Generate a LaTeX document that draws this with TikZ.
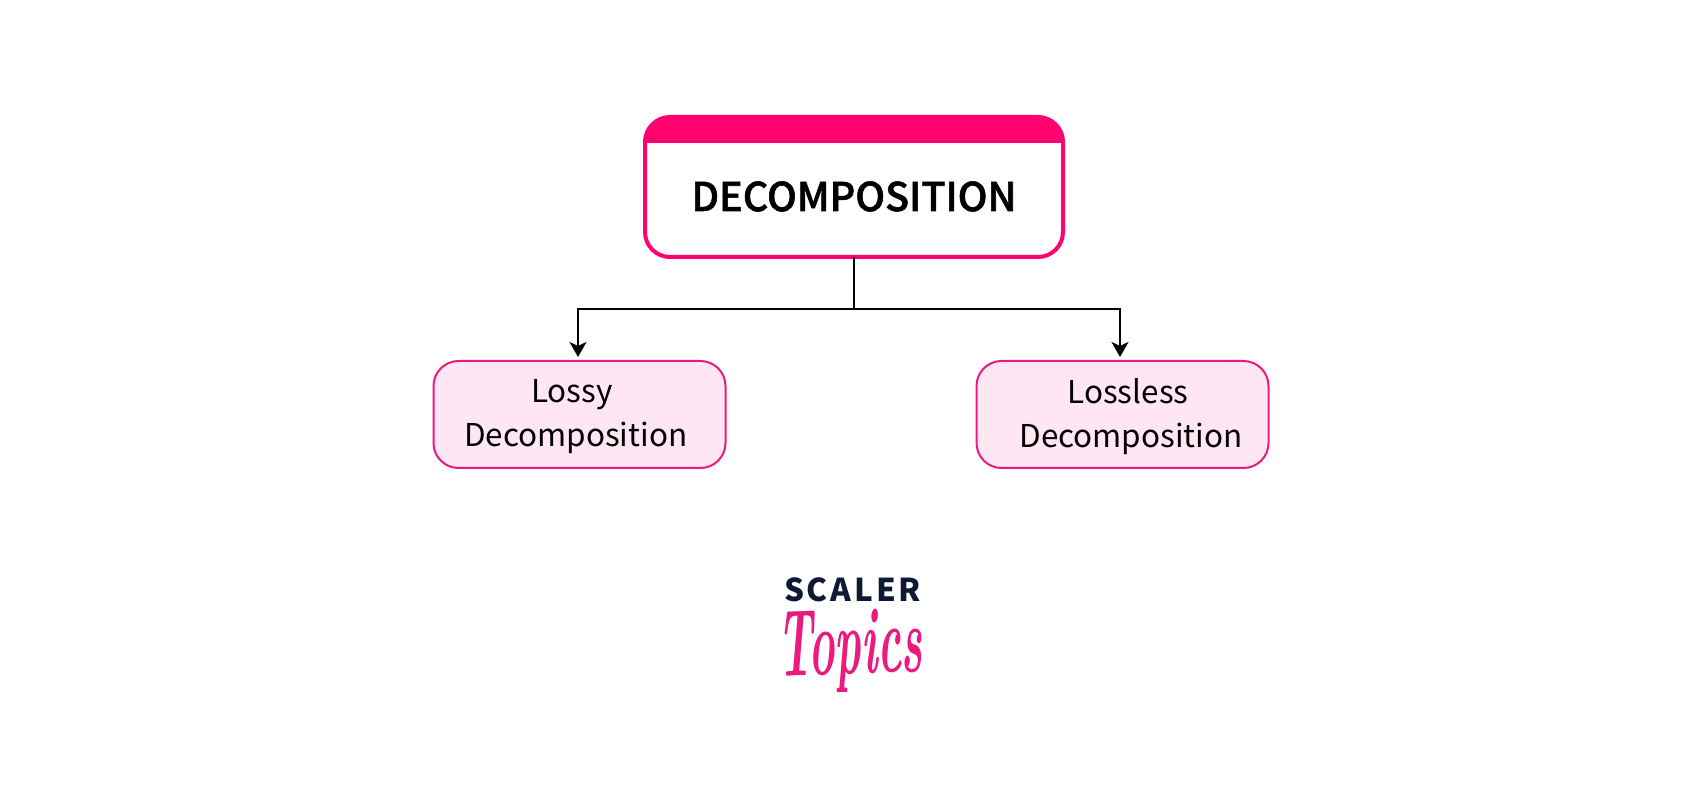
\documentclass[tikz,border=0pt]{standalone}
\usepackage{fontspec}
\usepackage{tikz}
\usetikzlibrary{calc}
\usetikzlibrary{positioning}
\usetikzlibrary{arrows.meta}
\newfontfamily\boxfont{Noto Sans CJK SC}
\newfontfamily\headfont[FakeBold=1.4]{Noto Sans CJK SC Medium}
\newfontfamily\logofont[LetterSpace=9]{Noto Sans CJK SC}
\definecolor{bandpink}{HTML}{FF0270}
\definecolor{edgepink}{HTML}{EA1A7F}
\definecolor{softpink}{HTML}{FEE6F2}
\definecolor{logonavy}{HTML}{0E1A33}
\tikzset{
    topbox/.style={draw=bandpink,line width=0.08cm,rounded corners=0.5cm,fill=white,
        minimum width=8.36cm,minimum height=2.8cm,outer sep=0pt,inner sep=0pt,
        text=black,font=\headfont\fontsize{22.5pt}{27pt}\selectfont},
    subbox/.style={draw=edgepink,line width=0.04cm,rounded corners=0.5cm,fill=softpink,
        minimum width=5.84cm,minimum height=2.14cm,outer sep=0pt,inner sep=0pt,align=center,
        text depth=0.06cm,text=black,font=\boxfont\fontsize{17.9pt}{25pt}\selectfont},
    link/.style={black,line width=0.04cm},
    droplink/.style={link,-{Stealth[length=0.3cm,width=0.34cm,inset=0.08cm]},shorten >=0.08cm},
}
\begin{document}
\begin{tikzpicture}[scale=1]
            \useasboundingbox (0,0) rectangle (34.02,15.78);

            \coordinate (split) at (17.08,9.6);
            \coordinate (bandline) at (0,12.92);

            \node[topbox] (decomp) at (17.08,12.04) {\raisebox{-0.48cm}[0pt][0pt]{DECOMPOSITION}};
            \node[subbox] (lossy) at (11.59,7.49) {Lossy\kern0.3cm\\Decomposition\kern0.15cm};
            \node[subbox] (lossless) at (22.45,7.49) {\hspace*{0.22cm}Lossless\\\hspace*{0.34cm}Decomposition};

            \fill[bandpink] (decomp.north west |- bandline)
                -- (decomp.north east |- bandline)
                [rounded corners=0.5cm] -- (decomp.north east) -- (decomp.north west) [sharp corners] -- cycle;

            \node[text=logonavy,font=\logofont\fontsize{17.9pt}{20pt}\bfseries] (scaler) at (17.05,3.98) {SCALER};
            \node[text=edgepink,font=\fontsize{54pt}{54pt}\itshape\bfseries,rotate=2,xscale=0.47] (topics) at (17.0,2.76) {Topics};

            \draw[link] (decomp.south) -- (split);
            \draw[droplink] (split) -| ([xshift=-0.03cm]lossy.north);
            \draw[droplink] (split) -| ([xshift=-0.05cm]lossless.north);
        \end{tikzpicture}
\end{document}
